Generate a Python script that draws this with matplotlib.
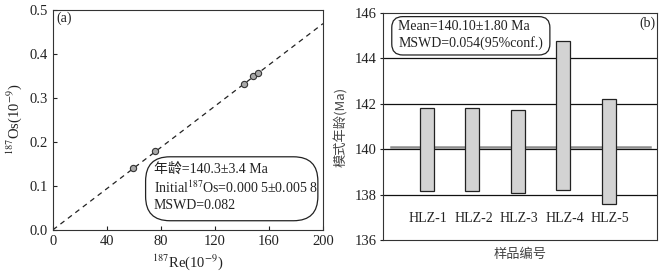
import matplotlib
matplotlib.use("Agg")
import matplotlib.pyplot as plt
from matplotlib.patches import FancyBboxPatch

# datos del panel (a): isocrona Re-Os
re187 = [59.5, 75.6, 141.5, 148.4, 152.1]
os187 = [0.140, 0.180, 0.330, 0.350, 0.357]
fit_x = [0, 200]
fit_y = [0.0005, 0.468]

# datos del panel (b): edades modelo
samples = ["HLZ-1", "HLZ-2", "HLZ-3", "HLZ-4", "HLZ-5"]
age_low = [138.18, 138.18, 138.07, 138.22, 137.57]
age_high = [141.83, 141.83, 141.72, 144.75, 142.20]
mean_age = 140.1

plt.rcParams['font.family'] = ['Liberation Serif', 'Noto Sans CJK SC']
plt.rcParams['mathtext.fontset'] = 'stix'
txt = '#222222'
cjk = ['Liberation Serif', 'Noto Sans CJK SC']

fig = plt.figure(figsize=(6.69, 2.74), dpi=100)

# ---------- panel (a) ----------
ax1 = fig.add_axes([0.0792, 0.1606, 0.4036, 0.8047])
ax1.plot(fit_x, fit_y, color='#222222', lw=0.9, ls=(0, (4, 3.5)))
ax1.plot(re187, os187, 'o', ms=4.5, mfc='#a8a8a8', mec='#333333', mew=0.8)
ax1.set_xlim(0, 200)
ax1.set_ylim(0, 0.5)
ax1.set_xticks([0, 40, 80, 120, 160, 200])
ax1.set_yticks([0.0, 0.1, 0.2, 0.3, 0.4, 0.5])
ax1.set_yticklabels(['0.0', '0.1', '0.2', '0.3', '0.4', '0.5'])
ax1.tick_params(direction='in', length=3, labelsize=10.5, colors=txt, width=0.8)
for s in ax1.spines.values():
    s.set_linewidth(0.8)
    s.set_color('#333333')
ax1.set_xlabel(r'$^{187}$Re(10$^{-9}$)', fontsize=10.5, color=txt, labelpad=3)
ax1.set_ylabel(r'$^{187}$Os(10$^{-9}$)', fontsize=10.5, color=txt, labelpad=4)
ax1.text(0.012, 0.96, '(a)', transform=ax1.transAxes, fontsize=10, color=txt,
         ha='left', va='center')

box1 = FancyBboxPatch((0.343, 0.042), 0.638, 0.29, transform=ax1.transAxes,
                      boxstyle='round,pad=0,rounding_size=0.09', mutation_aspect=1.224,
                      fc='white', ec='#222222', lw=0.9, zorder=3)
ax1.add_patch(box1)
ax1.text(0.374, 0.275, '年龄=140.3±3.4 Ma', transform=ax1.transAxes, fontsize=10,
         family=cjk, color=txt, ha='left', va='center', zorder=4)
ax1.text(0.374, 0.192, r'Initial$^{187}$Os=0.000 5±0.005 8', transform=ax1.transAxes,
         fontsize=10, color=txt, ha='left', va='center', zorder=4)
ax1.text(0.374, 0.110, 'MSWD=0.082', transform=ax1.transAxes, fontsize=10,
         color=txt, ha='left', va='center', zorder=4)

# ---------- panel (b) ----------
ax2 = fig.add_axes([0.5725, 0.1241, 0.4096, 0.8285])
xpos = list(range(1, len(samples) + 1))
ax2.set_xlim(0.04, 6.06)
ax2.set_ylim(136, 146)
for yl in [138, 140, 142, 144]:
    ax2.axhline(yl, color='#111111', lw=0.9, zorder=1)
ax2.plot([0.22, 5.91], [mean_age, mean_age], color='#8c8c8c', lw=1.8, zorder=2)
heights = [h - l for h, l in zip(age_high, age_low)]
ax2.bar(xpos, heights, bottom=age_low, width=0.31, color='#d3d3d3',
        edgecolor='#222222', lw=0.9, zorder=3)
for x, name in zip(xpos, samples):
    ax2.text(x + 0.03, 136.95, name, fontsize=10, color=txt, ha='center', va='center')
ax2.set_xticks([])
ax2.set_yticks([136, 138, 140, 142, 144, 146])
ax2.tick_params(axis='y', direction='out', length=2.5, width=0.8, pad=2,
                labelsize=10.5, colors=txt)
for s in ax2.spines.values():
    s.set_linewidth(0.8)
    s.set_color('#333333')
ax2.set_xlabel('样品编号', fontsize=9.5, family=['Noto Sans CJK SC'], color='#444444',
               labelpad=6)
ax2.set_ylabel('模式年龄(Ma)', fontsize=9.5, family=['Noto Sans CJK SC'],
               color='#444444', labelpad=5)
ax2.text(0.993, 0.955, '(b)', transform=ax2.transAxes, fontsize=10, color=txt,
         ha='right', va='center')

box2 = FancyBboxPatch((0.032, 0.815), 0.577, 0.169, transform=ax2.transAxes,
                      boxstyle='round,pad=0,rounding_size=0.04', mutation_aspect=1.207,
                      fc='white', ec='#222222', lw=0.9, zorder=4)
ax2.add_patch(box2)
ax2.text(0.056, 0.94, 'Mean=140.10±1.80 Ma', transform=ax2.transAxes, fontsize=10,
         color=txt, ha='left', va='center', zorder=5)
ax2.text(0.056, 0.869, 'MSWD=0.054(95%conf.)', transform=ax2.transAxes, fontsize=10,
         color=txt, ha='left', va='center', zorder=5)

fig.savefig('out.png', dpi=100)
